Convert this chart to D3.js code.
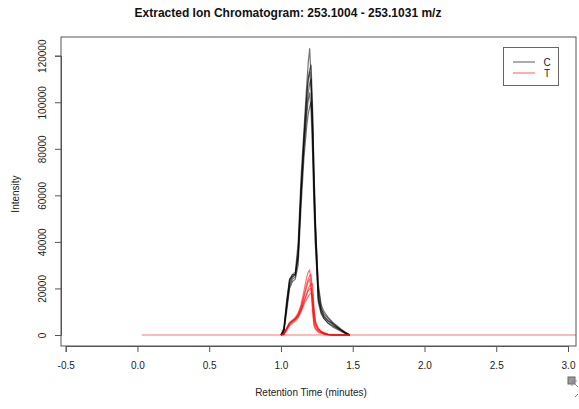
<!DOCTYPE html>
<html>
<head>
<meta charset="utf-8">
<script src="https://cdn.jsdelivr.net/npm/d3@7"></script>
<style>
    body { margin: 0; background: #fff; }
    svg { display: block; font-family: 'Liberation Sans', Arial, sans-serif; }
</style>
</head>
<body>
<svg id="chart" width="579" height="409"></svg>
<script>
// retention times (minutes) of the peak window, shared by every trace
const rt = [1.00, 1.02, 1.04, 1.06, 1.08, 1.10, 1.12, 1.14, 1.16, 1.18, 1.19, 1.20,
    1.21, 1.22, 1.23, 1.24, 1.26, 1.28, 1.30, 1.33, 1.36, 1.39, 1.42, 1.45, 1.48];

// flat zero signal over the whole run
const baseRt = [0.03, 3.08];
const baseInt = [0, 0];

// group C intensities (one array per sample)
const c1 = [0, 3000, 15000, 24000, 26000, 27000, 40000, 68000, 88000, 108000, 117000, 123000,
    110000, 88000, 62000, 45000, 14000, 9000, 7000, 5000, 3500, 2500, 1500, 500, 0];
const c2 = [0, 2000, 13000, 23000, 26000, 26000, 35000, 62000, 84000, 102000, 110000, 114000,
    116000, 98000, 72000, 50000, 18000, 10000, 8000, 6000, 4500, 3000, 2000, 800, 0];
const c3 = [0, 2500, 14000, 24000, 25000, 26000, 37000, 64000, 85000, 104000, 110000, 113000,
    105000, 85000, 60000, 40000, 15000, 10000, 7000, 5000, 4000, 3000, 1800, 600, 0];
const c4 = [0, 1500, 12000, 22000, 25000, 26000, 33000, 60000, 82000, 98000, 104000, 108000,
    110000, 95000, 70000, 48000, 20000, 12000, 8000, 6000, 5000, 3500, 2000, 1000, 0];
const c5 = [0, 2000, 12000, 21000, 24000, 25000, 34000, 60000, 80000, 95000, 101000, 104000,
    96000, 78000, 55000, 38000, 16000, 11000, 9000, 7000, 5000, 3500, 2200, 1000, 0];
const c6 = [0, 1000, 10000, 20000, 23000, 24000, 30000, 55000, 76000, 90000, 95000, 98000,
    100000, 90000, 66000, 46000, 22000, 13000, 10000, 7500, 5500, 4000, 2500, 1200, 0];

// group T intensities
const t1 = [0, 500, 3000, 5500, 6500, 7500, 9500, 13000, 19000, 25000, 27000, 28000,
    22000, 12000, 5000, 3000, 1500, 1000, 500, 0, 0, 0, 0, 0, 0];
const t2 = [0, 300, 2500, 5000, 6000, 7000, 9000, 12000, 17000, 22000, 24000, 25500,
    26000, 18000, 9000, 5000, 2500, 1500, 1000, 300, 0, 0, 0, 0, 0];
const t3 = [0, 500, 3000, 5000, 6000, 7000, 8500, 11500, 16000, 21000, 23000, 24000,
    19000, 10000, 4000, 2500, 1200, 800, 400, 0, 0, 0, 0, 0, 0];
const t4 = [0, 300, 2500, 4500, 5500, 6500, 8000, 10500, 14000, 18000, 20000, 21000,
    22000, 22000, 12000, 6000, 3000, 1500, 800, 300, 0, 0, 0, 0, 0];
const t5 = [0, 400, 2800, 5000, 6000, 6800, 8200, 10800, 14500, 17500, 19000, 19800,
    20000, 14000, 7000, 4000, 2000, 1200, 600, 200, 0, 0, 0, 0, 0];
const t6 = [0, 200, 2000, 4000, 5000, 6000, 7500, 10000, 13000, 15500, 16500, 17500,
    18000, 17000, 10000, 5000, 2500, 1500, 800, 300, 0, 0, 0, 0, 0];

const groupC = [c1, c2, c3, c4, c5, c6];
const groupT = [t1, t2, t3, t4, t5, t6];

const xTicks = [-0.5, 0.0, 0.5, 1.0, 1.5, 2.0, 2.5, 3.0];
const yTicks = [0, 20000, 40000, 60000, 80000, 100000, 120000];
const legendLabels = ['C', 'T'];

const colC = 'rgba(0,0,0,0.55)';
const colT = 'rgba(255,0,0,0.55)';

const svg = d3.select('#chart');
const box = { left: 61, top: 37, right: 576, bottom: 346 };

const x = d3.scaleLinear().domain([-0.5, 3.0]).range([65.7, 568]);
const y = d3.scaleLinear().domain([0, 120000]).range([335, 55.7]);

svg.append('defs')
    .append('clipPath')
    .attr('id', 'plot-clip')
    .append('rect')
    .attr('x', box.left)
    .attr('y', box.top)
    .attr('width', box.right - box.left)
    .attr('height', box.bottom - box.top);

const line = d3
    .line()
    .x((d) => x(d[0]))
    .y((d) => y(d[1]));

const traces = svg.append('g').attr('clip-path', 'url(#plot-clip)');

const drawGroup = (times, group, color) => {
    traces
        .selectAll(null)
        .data(group)
        .join('path')
        .attr('d', (vals) => line(times.map((t, i) => [t, vals[i]])))
        .attr('fill', 'none')
        .attr('stroke', color)
        .attr('stroke-width', 1.2)
        .attr('stroke-linejoin', 'round');
};

drawGroup(rt, groupC, colC);
drawGroup(rt, groupT, colT);
drawGroup(baseRt, [baseInt], colT);

// plot box
svg.append('rect')
    .attr('x', box.left)
    .attr('y', box.top)
    .attr('width', box.right - box.left)
    .attr('height', box.bottom - box.top)
    .attr('fill', 'none')
    .attr('stroke', '#555');

// x axis
const xAxis = svg
    .append('g')
    .attr('transform', `translate(0,${box.bottom})`)
    .call(d3.axisBottom(x).tickValues(xTicks).tickSizeOuter(0).tickSize(6).tickPadding(10)
        .tickFormat((d) => d.toFixed(1)));

// y axis, labels turned like R's default
const yAxis = svg
    .append('g')
    .attr('transform', `translate(${box.left},0)`)
    .call(d3.axisLeft(y).tickValues(yTicks).tickSizeOuter(0).tickSize(6).tickFormat((d) => d));

yAxis.selectAll('text')
    .attr('x', null)
    .attr('dy', '0.35em')
    .attr('text-anchor', 'middle')
    .attr('transform', 'translate(-19,0) rotate(-90)');

[xAxis, yAxis].forEach((g) => {
    g.selectAll('path, line').attr('stroke', '#555');
    g.selectAll('text').attr('fill', '#222').attr('font-size', 10).attr('font-family', null);
});

// titles
svg.append('text')
    .attr('x', 288)
    .attr('y', 17)
    .attr('text-anchor', 'middle')
    .attr('font-size', 12)
    .attr('font-weight', 'bold')
    .attr('fill', '#111')
    .text('Extracted Ion Chromatogram: 253.1004 - 253.1031 m/z');

svg.append('text')
    .attr('x', 311)
    .attr('y', 396)
    .attr('text-anchor', 'middle')
    .attr('font-size', 10)
    .attr('fill', '#222')
    .text('Retention Time (minutes)');

svg.append('text')
    .attr('transform', 'translate(18.5,194) rotate(-90)')
    .attr('text-anchor', 'middle')
    .attr('font-size', 10)
    .attr('fill', '#222')
    .text('Intensity');

// legend
const legend = svg.append('g');
legend.append('rect')
    .attr('x', 503.5)
    .attr('y', 47.5)
    .attr('width', 55)
    .attr('height', 38)
    .attr('fill', '#fff')
    .attr('stroke', '#666');

legend.selectAll('line')
    .data(legendLabels)
    .join('line')
    .attr('x1', 513)
    .attr('x2', 535)
    .attr('y1', (d, i) => 62 + i * 11)
    .attr('y2', (d, i) => 62 + i * 11)
    .attr('stroke', (d, i) => (i === 0 ? colC : colT))
    .attr('stroke-width', 1.2);

legend.selectAll('text')
    .data(legendLabels)
    .join('text')
    .attr('x', 547)
    .attr('y', (d, i) => 62 + i * 11)
    .attr('dy', '0.35em')
    .attr('text-anchor', 'middle')
    .attr('font-size', 10)
    .attr('fill', '#222')
    .text((d) => d);

// little window-corner glyph left in the screenshot
const corner = svg.append('g').attr('transform', 'translate(568,377)');
corner.append('rect').attr('x', 0).attr('y', 0).attr('width', 7).attr('height', 7)
    .attr('fill', '#999').attr('stroke', '#666');
corner.append('path').attr('d', 'M4,4 L10,10 M4,4 L4,9 M4,4 L9,4 M7,20 L10,17')
    .attr('fill', 'none').attr('stroke', '#888').attr('stroke-width', 1);
</script>
</body>
</html>
